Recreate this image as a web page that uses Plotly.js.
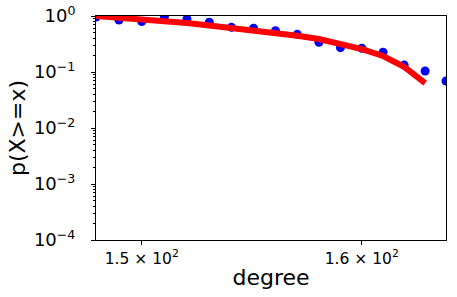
<!DOCTYPE html>
<html>
<head>
<meta charset="utf-8">
<script src="https://cdn.plot.ly/plotly-3.0.1.min.js"></script>
<style>html,body{margin:0;padding:0;background:#fff;}#chart{width:457px;height:297px;}</style>
</head>
<body>
<div id="chart"></div>
<script>
// Observed data points (degree, p(X>=x))
const degrees = [148,149,150,151,152,153,154,155,156,157,158,159,160,161,162,163,164];
const pObserved = [0.96,0.848,0.798,0.97,0.884,0.772,0.628,0.603,0.546,0.471,0.339,0.272,0.265,0.225,0.133,0.104,0.069];
// Fitted curve
const fitDegrees = [148,149,150,151,152,153,154,155,156,157,158,159,160,161,162,163];
const pFit = [1.0,0.936,0.873,0.807,0.750,0.677,0.616,0.555,0.497,0.443,0.388,0.323,0.257,0.193,0.124,0.0636];
// Tick labels
const yTickVals = [1e-4,1e-3,1e-2,1e-1,1];
const yTickText = ['10<sup>−4</sup>','10<sup>−3</sup>','10<sup>−2</sup>','10<sup>−1</sup>','10<sup>0</sup>'];
const xTickVals = [150,160];
const xTickText = ['1.5 × 10<sup>2</sup>','1.6 × 10<sup>2</sup>'];

const font = 'DejaVu Sans, sans-serif';
const traces = [
  {x: degrees, y: pObserved, type:'scatter', mode:'markers',
   marker:{color:'#0000ff', size:9, line:{width:0}}, showlegend:false},
  {x: fitDegrees, y: pFit, type:'scatter', mode:'lines',
   line:{color:'#ff0000', width:6}, showlegend:false}
];
const layout = {
  width:457, height:297,
  margin:{l:96, r:11, t:16, b:57},
  paper_bgcolor:'#fff', plot_bgcolor:'#fff',
  font:{family:font, color:'#000'},
  xaxis:{type:'log', range:[Math.log10(148), Math.log10(164)],
    tickvals:xTickVals, ticktext:xTickText, tickfont:{size:15.5, family:font},
    ticks:'outside', ticklen:4, tickcolor:'#000', tickwidth:1,
    showline:true, linecolor:'#000', linewidth:1, mirror:true,
    showgrid:false, zeroline:false,
    title:{text:'degree', font:{size:22, family:font}, standoff:3}},
  yaxis:{type:'log', range:[-4,0],
    tickvals:yTickVals, ticktext:yTickText, tickfont:{size:18, family:font},
    ticks:'outside', ticklen:4, tickcolor:'#000', tickwidth:1,
    ticklabelstandoff:12,
    minor:{ticks:'outside', ticklen:2, tickcolor:'#000', dtick:'D1', showgrid:false},
    showline:true, linecolor:'#000', linewidth:1, mirror:true,
    showgrid:false, zeroline:false,
    title:{text:'p(X>=x)', font:{size:22, family:font}, standoff:2}}
};
Plotly.newPlot('chart', traces, layout, {displayModeBar:false, staticPlot:true});
</script>
</body>
</html>
